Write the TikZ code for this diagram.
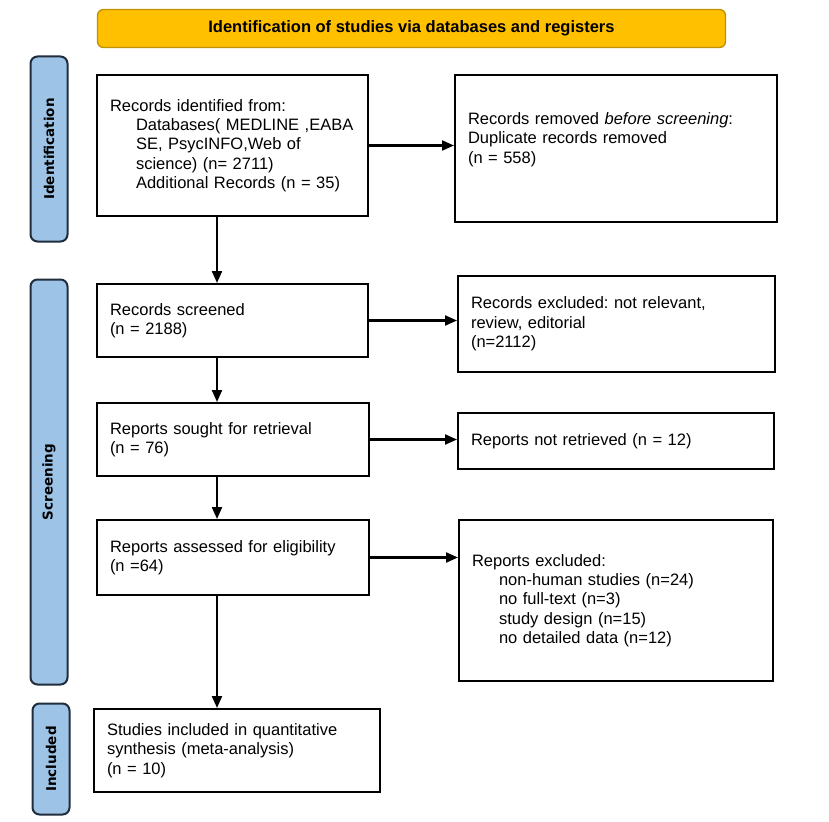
\documentclass[tikz,border=0pt]{standalone}
\usepackage{fontspec}
\setmainfont{Liberation Sans}
\newfontfamily\barfont{DejaVu Sans}
\usetikzlibrary{arrows.meta}
\definecolor{gold}{HTML}{FFC000}
\definecolor{golddark}{HTML}{C09000}
\definecolor{barblue}{HTML}{9DC3E6}
\definecolor{bardark}{HTML}{1F2D3D}
\frenchspacing
\begin{document}
\begin{tikzpicture}[x=1pt,y=-1pt,
  box/.style={draw=black, line width=2pt, fill=white, inner xsep=13pt, inner ysep=0pt,
    align=left, font=\fontsize{16.5}{19.3}\selectfont, anchor=center},
  side/.style={draw=bardark, fill=barblue, line width=2pt, rounded corners=7pt,
    rotate=90, minimum height=37pt, inner sep=0pt,
    font=\barfont\bfseries\fontsize{13.5}{16}\selectfont},
  banner/.style={draw=golddark, fill=gold, line width=1.3pt, rounded corners=6pt,
    inner sep=0pt, font=\bfseries\fontsize{16.5}{19}\selectfont},
  arr/.style={line width=2.2pt, -{Triangle[length=12pt,width=10pt]}}]

\useasboundingbox (0,0) rectangle (829,821);
\fill[white] (0,0) rectangle (829,821);

\node[banner, minimum width=628pt, minimum height=38pt] (banner) at (411.5,28.5)
  {Identification of studies via databases and registers};

\node[side, minimum width=185pt] (sid) at (49,149) {Identification};
\node[side, minimum width=405pt] (sscr) at (49,482) {Screening};
\node[side, minimum width=111pt] (sinc) at (51,759) {Included};

\node[box, minimum width=271pt, minimum height=141pt, text width=245pt] (b1) at (232.5,145.5)
  {Records identified from:\\
   \hspace*{26pt}Databases( MEDLINE ,EABA\\
   \hspace*{26pt}SE, PsycINFO,Web of\\
   \hspace*{26pt}science) (n= 2711)\\
   \hspace*{26pt}Additional Records (n = 35)};

\node[box, minimum width=322pt, minimum height=147pt, text width=296pt, text depth=60pt] (b2) at (616,148.5)
  {Records removed \textit{before screening}:\\
   Duplicate records removed\\
   (n = 558)};

\node[box, minimum width=271pt, minimum height=73pt, text width=245pt] (b3) at (232.5,320.5)
  {Records screened\\(n = 2188)};

\node[box, minimum width=317pt, minimum height=96pt, text width=291pt] (b4) at (616.5,324)
  {Records excluded: not relevant,\\review, editorial\\(n=2112)};

\node[box, minimum width=272pt, minimum height=73pt, text width=246pt] (b5) at (233,439.5)
  {Reports sought for retrieval\\(n = 76)};

\node[box, minimum width=316pt, minimum height=56pt, text width=290pt] (b6) at (616,441)
  {Reports not retrieved (n = 12)};

\node[box, minimum width=272pt, minimum height=75pt, text width=246pt] (b7) at (233,557.5)
  {Reports assessed for eligibility\\(n =64)};

\node[box, minimum width=314pt, minimum height=161pt, text width=288pt] (b8) at (616,600.5)
  {Reports excluded:\\
   \hspace*{27pt}non-human studies (n=24)\\
   \hspace*{27pt}no full-text (n=3)\\
   \hspace*{27pt}study design (n=15)\\
   \hspace*{27pt}no detailed data (n=12)};

\node[box, minimum width=286pt, minimum height=83pt, text width=260pt] (b9) at (237,750.5)
  {Studies included in quantitative\\synthesis (meta-analysis)\\(n = 10)};

\coordinate (xa) at (217,0);

\draw[arr] (b1.south -| xa) -- (b3.north -| xa);
\draw[arr] (b3.south -| xa) -- (b5.north -| xa);
\draw[arr] (b5.south -| xa) -- (b7.north -| xa);
\draw[arr] (b7.south -| xa) -- (b9.north -| xa);

\draw[arr] (b1.east) -- (b1.east -| b2.west);
\draw[arr] (b3.east) -- (b3.east -| b4.west);
\draw[arr] (b5.east) -- (b5.east -| b6.west);
\draw[arr] (b7.east) -- (b7.east -| b8.west);
\end{tikzpicture}
\end{document}
